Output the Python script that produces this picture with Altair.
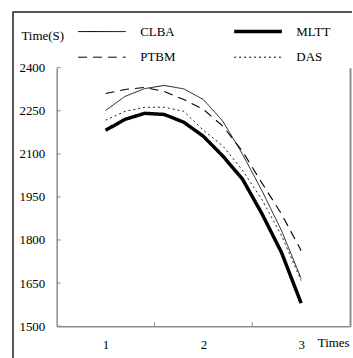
import altair as alt
import pandas as pd

times = [1.0, 1.2, 1.4, 1.6, 1.8, 2.0, 2.2, 2.4, 2.6, 2.8, 3.0]
clba = [2251, 2300, 2327, 2338, 2326, 2289, 2213, 2099, 1971, 1832, 1666]
mltt = [2182, 2220, 2241, 2237, 2210, 2161, 2092, 2012, 1891, 1756, 1580]
ptbm = [2310, 2324, 2331, 2317, 2289, 2255, 2196, 2109, 1998, 1890, 1763]
das = [2217, 2248, 2262, 2262, 2248, 2182, 2127, 2043, 1940, 1815, 1659]
series_names = ["CLBA", "MLTT", "PTBM", "DAS"]
y_ticks = [1500, 1650, 1800, 1950, 2100, 2250, 2400]
x_labels = [1, 2, 3]
x_inner_ticks = [1.5, 2.5]

rows = []
for name, vals in zip(series_names, [clba, mltt, ptbm, das]):
    for t, v in zip(times, vals):
        rows.append({"series": name, "t": t, "v": v})
df = pd.DataFrame(rows)

FONT = "Liberation Serif"
W, H = 295, 260

xscale = alt.Scale(domain=[0.5, 3.5], nice=False, zero=False)
yscale = alt.Scale(domain=[1500, 2400], nice=False, zero=False)

width_cond = {
    "condition": [
        {"test": "datum.series === 'MLTT'", "value": 3.5},
        {"test": "datum.series === 'PTBM'", "value": 1.1},
    ],
    "value": 0.9,
}

lines = alt.Chart(df).mark_line(color="black", clip=False).encode(
    x=alt.X("t:Q", scale=xscale, axis=alt.Axis(
        values=x_labels, format="d", ticks=False, grid=False,
        domainColor="#8c8c8c", domainWidth=1.5, labelPadding=12,
        labelFont=FONT, labelFontSize=13, labelColor="black",
        title="Times", titleFont=FONT, titleFontSize=13, titleFontWeight="normal",
        titleX=262, titleY=16, titleAlign="left", titleBaseline="middle",
        titleColor="black")),
    y=alt.Y("v:Q", scale=yscale, axis=alt.Axis(
        values=y_ticks, format="d", ticks=False, grid=False, domainColor="#8c8c8c",
        domainWidth=1.5, labelPadding=12, labelFont=FONT, labelFontSize=13,
        labelColor="black", title="Time(S)", titleFont=FONT, titleFontSize=13,
        titleFontWeight="normal", titleAngle=0, titleX=-36, titleY=-32,
        titleAlign="left", titleBaseline="middle", titleColor="black")),
    strokeDash=alt.StrokeDash("series:N", scale=alt.Scale(
        domain=series_names, range=[[1, 0], [1, 0], [9, 6], [2, 3]]),
        legend=alt.Legend(
            orient="none", legendX=39, legendY=-43, columns=2,
            direction="horizontal",
            title=None, symbolType="stroke", symbolSize=2300,
            symbolStrokeColor="black", labelFont=FONT,
            labelFontSize=13, labelColor="black", labelOffset=32,
            labelAlign="left",
            columnPadding=51, rowPadding=12,
            symbolStrokeWidth={"expr": "datum.value === 'MLTT' ? 3.5 : 1"})),
    strokeWidth=width_cond,
)

right_border = alt.Chart(df).mark_point(opacity=0).encode(
    x=alt.X("t:Q", scale=xscale, axis=None),
    y=alt.Y("v:Q", scale=yscale, axis=alt.Axis(
        orient="right", labels=False, ticks=False, grid=False, title=None,
        domainColor="#8c8c8c", domainWidth=2)),
)

ytick_df = pd.DataFrame({"v": y_ticks})
yticks = alt.Chart(ytick_df).mark_rule(color="#8c8c8c").encode(
    y=alt.Y("v:Q", scale=yscale, axis=None),
    x=alt.value(0), x2=alt.value(4),
)

xtick_df = pd.DataFrame({"t": x_inner_ticks})
xticks = alt.Chart(xtick_df).mark_rule(color="#8c8c8c").encode(
    x=alt.X("t:Q", scale=xscale, axis=None),
    y=alt.value(H), y2=alt.value(H - 4),
)

frame_left = alt.Chart(ytick_df).mark_rule(color="#555555").encode(
    x=alt.value(-44), y=alt.value(-56), y2=alt.value(292))
frame_top = alt.Chart(ytick_df).mark_rule(color="#555555").encode(
    x=alt.value(-44), x2=alt.value(297), y=alt.value(-56))

chart = alt.layer(lines, right_border, yticks, xticks, frame_left, frame_top).resolve_axis(
    x="independent", y="independent"
).properties(
    width=W, height=H,
    padding={"left": 12, "top": 10, "right": 0, "bottom": 0},
    background="white",
).configure(font=FONT).configure_view(stroke=None)

chart.save("out.html", embed_options={"renderer": "svg", "actions": False})
